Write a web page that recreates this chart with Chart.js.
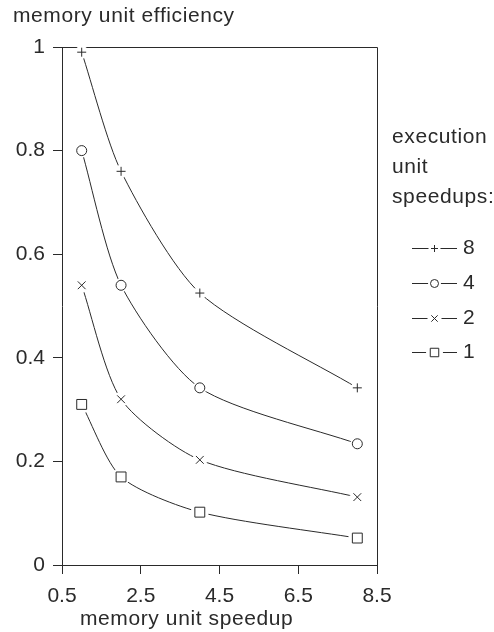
<!DOCTYPE html>
<html lang="en">
<head>
    <meta charset="UTF-8" />
    <title>memory unit efficiency</title>
    <script src="https://cdn.jsdelivr.net/npm/chart.js"></script>
    <style>
        html, body { margin: 0; padding: 0; background: #fff; }
        #wrap { width: 494px; height: 632px; }
    </style>
</head>
<body>
    <div id="wrap"><canvas id="chart" width="494" height="632"></canvas></div>

    <script>
        // data
        const speedups = [1, 2, 4, 8];
        const seriesNames = ['8', '4', '2', '1'];
        const eff8 = [0.99, 0.76, 0.525, 0.342];
        const eff4 = [0.80, 0.54, 0.342, 0.234];
        const eff2 = [0.54, 0.32, 0.203, 0.131];
        const eff1 = [0.31, 0.17, 0.102, 0.052];
        const xTicks = [0.5, 2.5, 4.5, 6.5, 8.5];
        const yTicks = [0, 0.2, 0.4, 0.6, 0.8, 1];
        const yTickLabels = ['0', '0.2', '0.4', '0.6', '0.8', '1'];

        const INK = '#2a2a2a';
        const FONT = "'Liberation Sans', Arial, sans-serif";

        const pts = vals => speedups.map((x, i) => ({ x: x, y: vals[i] }));
        const styles = [
            { style: 'cross', r: 4.5 },
            { style: 'circle', r: 5 },
            { style: 'crossRot', r: 5.5 },
            { style: 'rect', r: 7 }
        ];
        const allVals = [eff8, eff4, eff2, eff1];

        const datasets = allVals.map((v, i) => ({
            label: seriesNames[i],
            data: pts(v),
            showLine: true,
            borderColor: INK,
            borderWidth: 1,
            tension: 0.25,
            pointStyle: styles[i].style,
            pointRadius: styles[i].r,
            pointBorderColor: INK,
            pointBackgroundColor: '#fff',
            pointBorderWidth: 1
        }));

        // frame, white gaps round markers, titles and legend
        const decor = {
            id: 'decor',
            beforeDatasetsDraw(chart) {
                const a = chart.chartArea, c = chart.ctx;
                c.save();
                c.strokeStyle = INK;
                c.lineWidth = 1;
                c.beginPath();
                c.moveTo(a.left, a.top + 0.5);
                c.lineTo(a.right + 0.5, a.top + 0.5);
                c.lineTo(a.right + 0.5, a.bottom);
                c.stroke();
                c.restore();
            },
            afterDatasetsDraw(chart) {
                const c = chart.ctx;
                c.save();
                chart.data.datasets.forEach((ds, i) => {
                    const meta = chart.getDatasetMeta(i);
                    meta.data.forEach(p => {
                        c.fillStyle = '#fff';
                        c.beginPath();
                        c.arc(p.x, p.y, ds.pointRadius + 2, 0, Math.PI * 2);
                        c.fill();
                        c.strokeStyle = INK;
                        c.fillStyle = '#fff';
                        c.lineWidth = 1;
                        Chart.helpers.drawPoint(c, { pointStyle: ds.pointStyle, radius: ds.pointRadius, rotation: 0, borderWidth: 1 }, p.x, p.y);
                    });
                });

                c.fillStyle = INK;
                c.font = '21px ' + FONT;
                c.letterSpacing = '0.6px';
                c.textBaseline = 'middle';
                c.textAlign = 'left';
                c.fillText('memory unit efficiency', 13, 16);
                c.fillText('memory unit speedup', 80, 619);

                c.fillText('execution', 392, 137);
                c.fillText('unit', 392, 167);
                c.fillText('speedups:', 392, 197);

                const rows = [248, 283, 318, 352];
                chart.data.datasets.forEach((ds, i) => {
                    const y = rows[i] + 0.5;
                    c.strokeStyle = INK;
                    c.lineWidth = 1;
                    c.beginPath();
                    c.moveTo(412, y);
                    c.lineTo(457, y);
                    c.stroke();
                    c.fillStyle = '#fff';
                    c.beginPath();
                    c.arc(434.5, y, ds.pointRadius + 1.5, 0, Math.PI * 2);
                    c.fill();
                    c.fillStyle = '#fff';
                    Chart.helpers.drawPoint(c, { pointStyle: ds.pointStyle, radius: ds.pointRadius - 1, rotation: 0, borderWidth: 1 }, 434.5, y);
                    c.fillStyle = INK;
                    c.fillText(ds.label, 463, rows[i]);
                });
                c.restore();
            }
        };

        const ctx = document.getElementById('chart').getContext('2d');
        const chart = new Chart(ctx, {
            type: 'scatter',
            data: { datasets: datasets },
            plugins: [decor],
            options: {
                responsive: false,
                animation: false,
                layout: { padding: { top: 47, right: 117, left: 0, bottom: 0 } },
                plugins: {
                    legend: { display: false },
                    tooltip: { enabled: false }
                },
                scales: {
                    x: {
                        type: 'linear',
                        min: 0.5,
                        max: 8.5,
                        afterBuildTicks: s => { s.ticks = xTicks.map(v => ({ value: v })); },
                        afterFit: s => { s.height = 67; },
                        ticks: {
                            color: INK,
                            font: { family: FONT, size: 21 },
                            padding: 10,
                            maxRotation: 0,
                            callback: v => String(v)
                        },
                        grid: { drawOnChartArea: false, tickLength: 9, color: INK },
                        border: { color: INK, width: 1 }
                    },
                    y: {
                        type: 'linear',
                        min: 0,
                        max: 1,
                        afterBuildTicks: s => { s.ticks = yTicks.map(v => ({ value: v })); },
                        afterFit: s => { s.width = 62; },
                        ticks: {
                            color: INK,
                            font: { family: FONT, size: 21 },
                            padding: 8,
                            callback: (v, i) => yTickLabels[i]
                        },
                        grid: { drawOnChartArea: false, tickLength: 9, color: INK },
                        border: { color: INK, width: 1 }
                    }
                }
            }
        });
    </script>
</body>
</html>
